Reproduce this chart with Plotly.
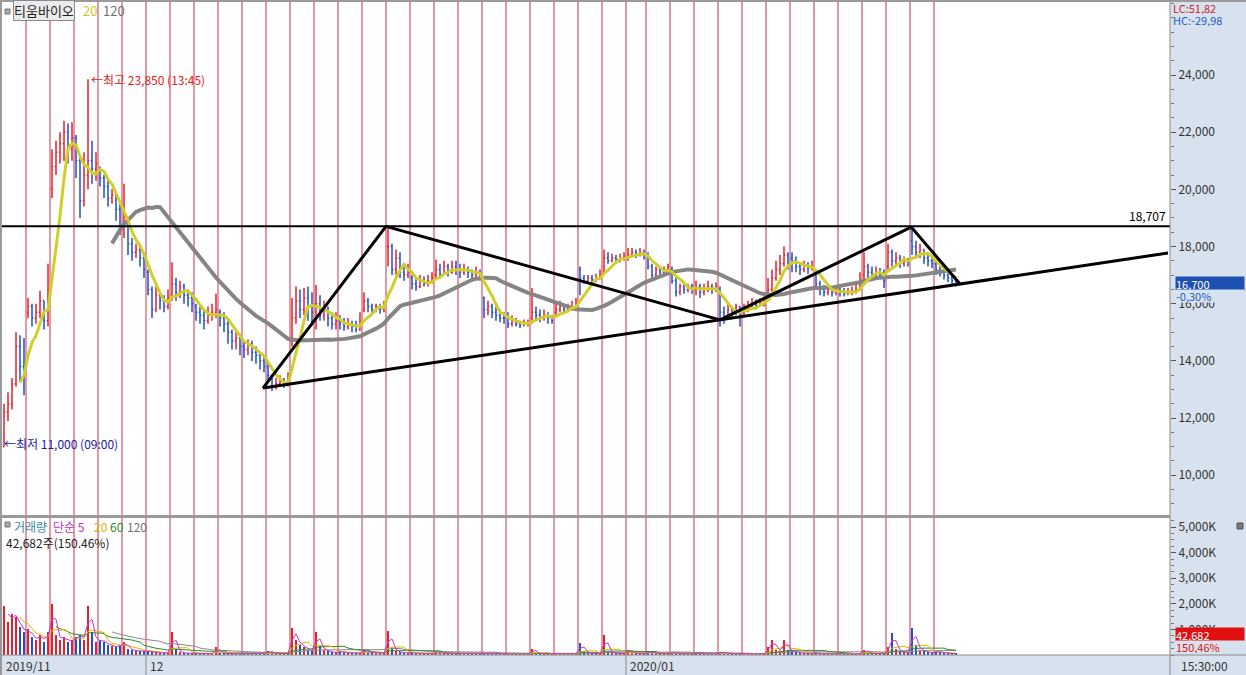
import plotly.graph_objects as go
import pandas as pd

# ---------------- data ----------------
day_labels = ["11/22", "11/25", "11/26", "11/27", "11/28", "11/29",
              "12/02", "12/03", "12/04", "12/05", "12/06", "12/09", "12/10", "12/11", "12/12", "12/13",
              "12/16", "12/17", "12/18", "12/19", "12/20", "12/23", "12/24", "12/26", "12/27", "12/30",
              "01/02", "01/03", "01/06", "01/07", "01/08", "01/09", "01/10", "01/13", "01/14", "01/15",
              "01/16", "01/17", "01/20", "01/21"]

day_open = [11000, 15700, 20000, 21800, 20700, 18700, 17100, 16300, 15900, 15700,
            14500, 13800, 14700, 16000, 15400, 15800, 18000, 16900, 17000, 17200,
            16200, 15500, 15500, 15700, 17200, 17100, 17600, 17700, 17200, 16500,
            16500, 15700, 16200, 17600, 17100, 16500, 17000, 17300, 18200, 17400]

closes = [
    [12200, 12500, 13200, 14500, 13800, 13500],
    [15900, 15500, 15700, 16100, 15400, 16200],
    [20800, 21300, 21600, 22000, 21400, 21800],
    [21000, 19600, 20500, 21000, 20700, 20900],
    [20400, 20100, 19700, 19800, 19300, 18600],
    [18800, 18100, 17800, 17900, 17600, 17200],
    [16500, 15800, 16300, 16100, 15900, 16200],
    [16700, 16400, 16600, 16300, 16200, 16000],
    [15700, 15600, 15400, 15600, 15700, 15800],
    [15500, 15300, 15000, 14700, 14800, 14500],
    [14400, 14600, 14300, 14200, 14000, 13800],
    [13500, 13100, 13200, 13300, 13150, 13400],
    [15500, 16100, 15800, 16200, 15900, 15700],
    [16000, 15600, 15800, 15500, 15300, 15400],
    [15300, 15200, 15300, 15200, 15100, 15300],
    [16100, 15900, 15800, 15900, 15800, 15900],
    [18000, 17200, 17600, 17100, 17000, 17100],
    [16700, 16600, 16800, 16700, 16800, 16900],
    [17200, 17000, 17300, 17100, 17300, 17200],
    [17100, 17200, 17100, 17000, 17100, 16900],
    [15800, 15900, 15700, 15600, 15500, 15500],
    [15300, 15400, 15300, 15250, 15300, 15300],
    [15700, 15600, 15500, 15600, 15500, 15400],
    [15800, 15900, 15800, 15850, 15900, 16000],
    [16900, 16800, 16900, 16850, 16900, 17000],
    [17600, 17500, 17600, 17550, 17600, 17650],
    [17700, 17800, 17750, 17800, 17700],
    [17300, 17000, 17200, 17100, 17200, 17300],
    [16800, 16400, 16600, 16500, 16600, 16500],
    [16600, 16400, 16500, 16600, 16500, 16600],
    [15700, 15500, 15800, 15700, 15900, 15600],
    [15800, 15900, 16000, 15950, 16050, 16100],
    [16500, 16900, 17200, 17400, 17700, 17400],
    [17500, 17300, 17200, 17350, 17250, 17300],
    [16700, 16500, 16400, 16500, 16400, 16450],
    [16400, 16350, 16400, 16450, 16500, 16800],
    [17300, 17100, 17000, 17100, 17000, 16800],
    [17800, 17500, 17600, 17400, 17500, 17450],
    [18000, 17800, 17900, 17600, 17500, 17400],
    [17200, 17100, 17000, 16900, 16800, 16700],
]

highs = [
    [12500, 12900, 13400, 15000, 14900, 14800],
    [16200, 16000, 16000, 16450, 15900, 17400],
    [21400, 21700, 22000, 22400, 22300, 22350],
    [21900, 21100, 21300, 23850, 21700, 21300],
    [20800, 20500, 20400, 20000, 19900, 19500],
    [20200, 19000, 18300, 18100, 18000, 17800],
    [17200, 16600, 16600, 16400, 16300, 16500],
    [17450, 16900, 16800, 16700, 16500, 16400],
    [16000, 15900, 15800, 15900, 16000, 16350],
    [15800, 15700, 15400, 15100, 15000, 14950],
    [14700, 14750, 14700, 14500, 14300, 14200],
    [14000, 13500, 13400, 13500, 13400, 13600],
    [16200, 16600, 16500, 16550, 16600, 16400],
    [16650, 16300, 16100, 15900, 15700, 15700],
    [15600, 15500, 15500, 15400, 15400, 15700],
    [16400, 16200, 16000, 16000, 16000, 16100],
    [18707, 18100, 17900, 17800, 17300, 17400],
    [17000, 16900, 17000, 16950, 17000, 17100],
    [17550, 17400, 17500, 17400, 17500, 17500],
    [17400, 17400, 17300, 17200, 17300, 17200],
    [16250, 16100, 16000, 15900, 15800, 15700],
    [15700, 15600, 15500, 15400, 15450, 15450],
    [16550, 15900, 15800, 15800, 15700, 15600],
    [16100, 16100, 16000, 16000, 16100, 16200],
    [17300, 17000, 17000, 17000, 17050, 17200],
    [17900, 17800, 17750, 17700, 17750, 17800],
    [17950, 17950, 17900, 17950, 17900],
    [17800, 17400, 17300, 17300, 17300, 17400],
    [17300, 16900, 16700, 16700, 16700, 16700],
    [16800, 16700, 16700, 16800, 16700, 16750],
    [16600, 15900, 16000, 15900, 16000, 15900],
    [16000, 16100, 16200, 16150, 16200, 16250],
    [16900, 17200, 17500, 17700, 18000, 17800],
    [17800, 17650, 17400, 17500, 17450, 17500],
    [17200, 16800, 16650, 16700, 16600, 16650],
    [16600, 16550, 16550, 16600, 16700, 17100],
    [17800, 17400, 17300, 17300, 17250, 17200],
    [18100, 17900, 17800, 17700, 17650, 17600],
    [18600, 18200, 18100, 17900, 17800, 17700],
    [17450, 17300, 17200, 17100, 17000, 16900],
]

lows = [
    [11000, 11900, 12300, 13100, 13300, 12800],
    [15500, 15200, 15300, 15500, 15100, 15200],
    [19700, 20500, 20900, 21000, 20900, 21000],
    [20400, 19000, 19400, 20000, 20200, 20300],
    [20100, 19700, 19400, 19500, 18900, 18400],
    [18300, 17700, 17500, 17600, 17300, 16900],
    [16300, 15500, 15700, 15800, 15700, 15800],
    [16100, 16100, 16200, 16000, 15900, 15700],
    [15400, 15300, 15100, 15300, 15400, 15500],
    [15200, 15000, 14600, 14400, 14400, 14200],
    [14100, 14200, 14000, 13900, 13700, 13600],
    [13300, 12950, 13000, 13100, 13050, 13100],
    [14500, 15300, 15500, 15600, 15400, 15300],
    [15100, 15400, 15400, 15200, 15100, 15100],
    [15100, 15050, 15100, 15000, 15000, 15050],
    [15700, 15700, 15650, 15700, 15650, 15700],
    [17300, 17000, 17000, 16900, 16800, 16900],
    [16500, 16450, 16550, 16600, 16600, 16700],
    [16900, 16900, 17000, 16950, 17050, 17000],
    [16900, 17000, 16900, 16850, 16900, 16800],
    [15500, 15600, 15500, 15400, 15350, 15300],
    [15150, 15200, 15200, 15150, 15200, 15200],
    [15300, 15400, 15350, 15400, 15300, 15300],
    [15600, 15700, 15650, 15700, 15750, 15800],
    [16300, 16700, 16750, 16700, 16750, 16850],
    [17100, 17400, 17450, 17400, 17450, 17500],
    [17500, 17650, 17600, 17650, 17550],
    [17200, 16900, 16950, 17000, 17050, 17100],
    [16700, 16250, 16300, 16350, 16400, 16350],
    [16300, 16200, 16300, 16400, 16350, 16400],
    [15200, 15300, 15500, 15500, 15600, 15200],
    [15600, 15700, 15800, 15800, 15900, 15900],
    [16100, 16400, 16800, 17000, 17300, 17200],
    [17100, 17100, 17000, 17100, 17050, 17150],
    [16500, 16300, 16250, 16300, 16250, 16300],
    [16250, 16250, 16300, 16300, 16350, 16450],
    [16800, 16900, 16850, 16900, 16850, 16550],
    [17200, 17300, 17300, 17250, 17300, 17300],
    [17700, 17600, 17600, 17400, 17300, 17250],
    [17000, 16950, 16850, 16750, 16650, 16600],
]

volumes_k = [
    [1900, 1300, 1600, 1500, 1100, 900],
    [1000, 700, 600, 800, 500, 900],
    [2000, 800, 600, 700, 500, 600],
    [700, 800, 600, 1900, 900, 500],
    [600, 500, 400, 350, 300, 400],
    [500, 250, 200, 150, 150, 150],
    [150, 100, 100, 80, 80, 80],
    [900, 250, 100, 80, 70, 60],
    [80, 60, 60, 50, 50, 300],
    [80, 60, 50, 50, 50, 50],
    [60, 50, 50, 50, 60, 80],
    [150, 100, 80, 60, 60, 80],
    [1050, 600, 400, 300, 200, 150],
    [900, 350, 200, 150, 100, 100],
    [150, 100, 80, 80, 60, 80],
    [200, 100, 80, 80, 60, 80],
    [950, 300, 150, 100, 80, 80],
    [100, 80, 60, 60, 60, 60],
    [100, 80, 60, 60, 60, 60],
    [80, 60, 60, 50, 50, 60],
    [80, 60, 50, 50, 50, 50],
    [60, 50, 40, 40, 40, 50],
    [250, 80, 50, 40, 40, 50],
    [60, 50, 40, 40, 40, 60],
    [470, 150, 80, 60, 50, 60],
    [780, 150, 80, 60, 50, 60],
    [200, 80, 60, 50, 50],
    [150, 80, 60, 50, 50, 50],
    [120, 60, 50, 40, 40, 50],
    [60, 50, 40, 40, 40, 50],
    [120, 80, 60, 50, 50, 60],
    [60, 50, 40, 40, 40, 60],
    [300, 600, 200, 150, 600, 200],
    [150, 100, 80, 60, 60, 60],
    [100, 60, 50, 50, 40, 40],
    [60, 50, 40, 40, 40, 80],
    [200, 80, 60, 50, 50, 60],
    [300, 860, 250, 150, 100, 80],
    [1050, 400, 200, 150, 100, 80],
    [150, 100, 80, 60, 60, 43],
]

price_ticks = [10000, 12000, 14000, 16000, 18000, 20000, 22000, 24000]
vol_ticks = [1000, 2000, 3000, 4000, 5000]
vol_tick_text = ["1,000K", "2,000K", "3,000K", "4,000K", "5,000K"]
month_labels = [("2019/11", 0), ("12", 6), ("2020/01", 26)]   # (text, day index)

resistance = 18707
# hand-drawn trend lines: (bar position, price)
trend_lines = [
    [(64.75, 13050), (95.5, 18707)],
    [(95.5, 18707), (179.0, 15436)],
    [(64.75, 13050), (291.0, 17774)],
    [(179.0, 15436), (226.8, 18680)],
    [(226.8, 18680), (239.0, 16690)],
]

# ---------------- build series ----------------
o, h, l, c, v, day_start = [], [], [], [], [], []
for d in range(len(closes)):
    day_start.append(len(c))
    prev = day_open[d]
    for j in range(len(closes[d])):
        op = prev
        cl = closes[d][j]
        o.append(op)
        c.append(cl)
        h.append(max(highs[d][j], op, cl))
        l.append(min(lows[d][j], op, cl))
        v.append(volumes_k[d][j])
        prev = cl
n = len(c)
xs = list(range(n))
cs = pd.Series(c, dtype=float)
vs = pd.Series(v, dtype=float)
ma20 = cs.rolling(5).mean()
ma120 = cs.rolling(28).mean()

RED = "#e3202c"
BLUE = "#1f4fd0"
DAYLINE = "#c8324b"
STRIP = "#d8e2ee"
FONT = "Noto Sans CJK KR"

W, H = 1246, 675
L_M, R_M, T_M, B_M = 2, 76, 2, 20
PW = W - L_M - R_M
PH = H - T_M - B_M
XMAX = -0.5 + PW / 4.0


def px_x(px):
    return (px - L_M) / PW


def px_y(py):
    return (H - B_M - py) / PH


fig = go.Figure()

fig.add_trace(go.Ohlc(
    x=xs, open=o, high=h, low=l, close=c,
    increasing=dict(line=dict(color=RED, width=1.5)),
    decreasing=dict(line=dict(color=BLUE, width=1.5)),
    tickwidth=0.3, showlegend=False, hoverinfo="skip", yaxis="y"))

fig.add_trace(go.Scatter(x=xs, y=ma120, mode="lines", line=dict(color="#858585", width=4),
                         showlegend=False, hoverinfo="skip", yaxis="y"))
fig.add_trace(go.Scatter(x=xs, y=ma20, mode="lines", line=dict(color="#cfcf2a", width=3),
                         showlegend=False, hoverinfo="skip", yaxis="y"))

# volume
vcol = [RED if c[i] >= o[i] else BLUE for i in range(n)]
fig.add_trace(go.Bar(x=xs, y=v, marker=dict(color=vcol, line=dict(width=0)), width=0.7,
                     showlegend=False, hoverinfo="skip", yaxis="y2"))
for win, col in [(28, "#8a8a8a"), (14, "#2e8b2e"), (5, "#e0b800"), (2, "#cc33cc")]:
    fig.add_trace(go.Scatter(x=xs, y=vs.rolling(win).mean(), mode="lines",
                             line=dict(color=col, width=1), showlegend=False,
                             hoverinfo="skip", yaxis="y2"))

# trend lines
for seg in trend_lines:
    fig.add_trace(go.Scatter(x=[p[0] for p in seg], y=[p[1] for p in seg], mode="lines",
                             line=dict(color="black", width=3), showlegend=False,
                             hoverinfo="skip", yaxis="y"))
fig.add_trace(go.Scatter(x=[-0.5, XMAX], y=[resistance, resistance], mode="lines",
                         line=dict(color="black", width=2), showlegend=False,
                         hoverinfo="skip", yaxis="y"))

shapes = []
# day separators
for d in range(1, len(day_start)):
    xb = day_start[d] - 0.5
    shapes.append(dict(type="line", xref="x", yref="paper", x0=xb, x1=xb, y0=0, y1=1,
                       line=dict(color=DAYLINE, width=1), layer="below"))
# panel separator and borders
shapes.append(dict(type="rect", xref="paper", yref="paper", x0=0, x1=1,
                   y0=px_y(518), y1=px_y(515), fillcolor="#9a9a9a", line=dict(width=0)))
shapes.append(dict(type="rect", xref="paper", yref="paper", x0=px_x(0), x1=0,
                   y0=px_y(H), y1=px_y(0), fillcolor="#9a9a9a", line=dict(width=0)))
shapes.append(dict(type="rect", xref="paper", yref="paper", x0=px_x(0), x1=px_x(W),
                   y0=1, y1=px_y(0), fillcolor="#9a9a9a", line=dict(width=0)))
shapes.append(dict(type="line", xref="paper", yref="paper", x0=px_x(0), x1=px_x(W),
                   y0=0, y1=0, line=dict(color="#8a8a8a", width=1)))
shapes.append(dict(type="line", xref="paper", yref="paper", x0=1, x1=1,
                   y0=px_y(H), y1=1, line=dict(color="#8a8a8a", width=1)))
# month separators in the time strip
for txt, d in month_labels[1:]:
    xb = day_start[d] - 0.5
    shapes.append(dict(type="line", xref="x", yref="paper", x0=xb, x1=xb,
                       y0=px_y(H), y1=0, line=dict(color="#8a8a8a", width=1)))
# legend icons
shapes.append(dict(type="rect", xref="paper", yref="paper", x0=px_x(5), x1=px_x(10),
                   y0=px_y(14), y1=px_y(9), fillcolor="#aaaaaa", line=dict(color="#777", width=1)))
shapes.append(dict(type="rect", xref="paper", yref="paper", x0=px_x(5), x1=px_x(10),
                   y0=px_y(527), y1=px_y(522), fillcolor="#aaaaaa", line=dict(color="#777", width=1)))
# small close box in the volume panel corner
shapes.append(dict(type="rect", xref="paper", yref="paper", x0=px_x(1237), x1=px_x(1243),
                   y0=px_y(529), y1=px_y(523), fillcolor="#777", line=dict(color="#555", width=1)))

ann = []


def text(px, py, s, color="black", size=12, anchor="left", bg=None, border=None,
         yanchor="middle", width=None, height=None):
    d = dict(xref="paper", yref="paper", x=px_x(px), y=px_y(py), text=s, showarrow=False,
             xanchor=anchor, yanchor=yanchor, font=dict(family=FONT, size=size, color=color))
    if bg:
        d["bgcolor"] = bg
    if border:
        d["bordercolor"] = border
        d["borderwidth"] = 1
    if width:
        d["width"] = width
        d["align"] = "left"
    if height:
        d["height"] = height
    d["borderpad"] = 0
    ann.append(d)


# top-left legend
text(13, 11, "티움바이오", "#222", 13, bg="#ebebeb", border="#8a8a8a")
text(82, 11, "20", "#c8c81e", 13)
text(102, 11, "120", "#707070", 13)
# top-right
text(1172, 8, "LC:51,82", "#d02030", 11, height=12)
text(1172, 20, "HC:-29,98", "#2060c0", 11, height=12)
# high / low marks
hi_idx = max(range(n), key=lambda i: h[i])
lo_idx = min(range(n), key=lambda i: l[i])
ann.append(dict(xref="x", yref="y", x=hi_idx + 0.3, y=h[hi_idx], text="←최고 23,850 (13:45)",
                showarrow=False, xanchor="left", yanchor="middle",
                font=dict(family=FONT, size=12, color="#e0201c")))
ann.append(dict(xref="x", yref="y", x=lo_idx - 0.5, y=l[lo_idx] + 100, text="←최저 11,000 (09:00)",
                showarrow=False, xanchor="left", yanchor="middle",
                font=dict(family=FONT, size=12, color="#1a1aa8")))
# resistance label
ann.append(dict(xref="x", yref="y", x=XMAX - 0.5, y=resistance, text="18,707", showarrow=False,
                xanchor="right", yanchor="bottom", font=dict(family=FONT, size=12, color="black")))
# right price box
text(1175, 283, "16,700", "white", 11, bg="#1e50b4", width=68, height=13)
text(1175, 296, "-0,30%", "#2060c0", 11, bg=STRIP, width=68, height=12)
# volume legend
text(13, 526, "거래량", "#3a8aa0", 12)
text(52, 526, "단순 5", "#c030c0", 12)
text(93, 526, "20", "#d8b800", 12)
text(109, 526, "60", "#2e8b2e", 12)
text(126, 526, "120", "#707070", 12)
text(5, 542, "42,682주(150.46%)", "#222", 12)
# volume right box
text(1175, 634, "42,682", "white", 11, bg="#e01010", width=68, height=13)
text(1175, 647, "150,46%", "#e01010", 11, bg=STRIP, width=68, height=12)
# time strip
for txt, d in month_labels:
    xb = day_start[d] - 0.5
    ann.append(dict(xref="x", yref="paper", x=xb + 0.5, y=px_y(665), text=txt, showarrow=False,
                    xanchor="left", yanchor="middle", font=dict(family=FONT, size=12, color="#333")))
text(1180, 665, "15:30:00", "#333", 12)

fig.update_layout(
    width=W, height=H,
    margin=dict(l=L_M, r=R_M, t=T_M, b=B_M),
    paper_bgcolor=STRIP, plot_bgcolor="white",
    showlegend=False, bargap=0,
    shapes=shapes, annotations=ann,
    xaxis=dict(range=[-0.5, XMAX], showgrid=False, zeroline=False, showticklabels=False,
               rangeslider=dict(visible=False), anchor="y2", showline=False, fixedrange=True),
    yaxis=dict(domain=[px_y(515), 1], range=[24000 - (515 - 75) * 34.98, 24000 + (75 - 2) * 34.98],
               side="right", tickvals=price_ticks, tickformat=",d", showgrid=False, zeroline=False,
               ticks="outside", ticklen=5, tickcolor="#555", showline=False,
               tickfont=dict(family=FONT, size=12, color="#333"),
               minor=dict(dtick=500, ticks="outside", ticklen=3, tickcolor="#777")),
    yaxis2=dict(domain=[0, px_y(518)], range=[0, 5000 * (655 - 518) / (655 - 527)],
                side="right", tickvals=vol_ticks, ticktext=vol_tick_text, showgrid=False,
                zeroline=False, ticks="outside", ticklen=5, tickcolor="#555", anchor="x",
                tickfont=dict(family=FONT, size=12, color="#333"),
                minor=dict(dtick=250, ticks="outside", ticklen=3, tickcolor="#777")),
)

fig.write_html("out.html", config={"displayModeBar": False},
               post_script="document.body.style.margin='0px';document.body.style.overflow='hidden';")
